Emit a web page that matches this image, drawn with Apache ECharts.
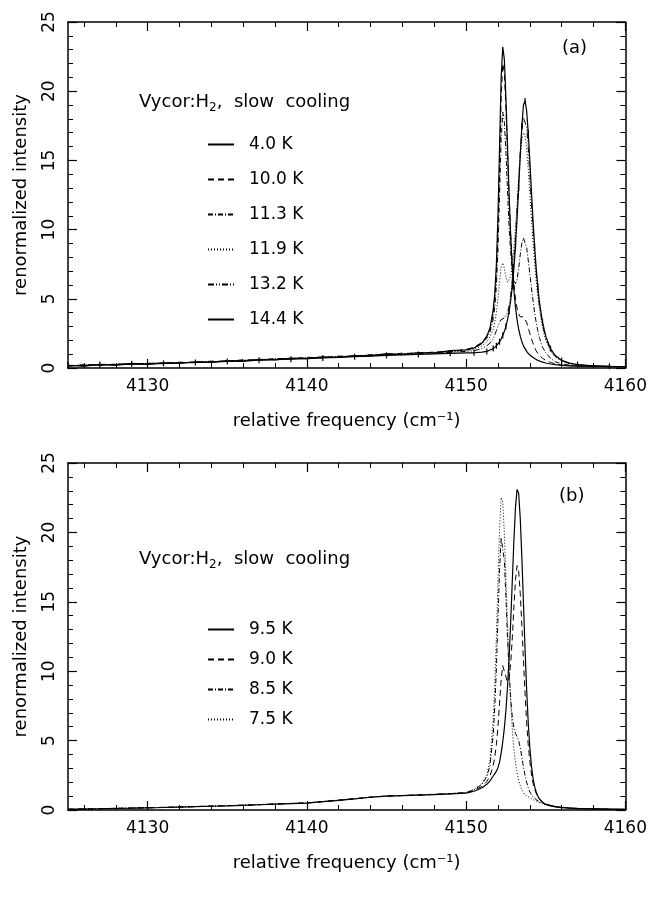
<!DOCTYPE html>
<html>
<head>
<meta charset="utf-8">
<script src="https://cdn.jsdelivr.net/npm/echarts@6/dist/echarts.min.js"></script>
<style>
html,body{margin:0;padding:0;background:#fff;}
#chart{width:650px;height:902px;}
</style>
</head>
<body>
<div id="chart"></div>
<script>
// ---- data ----
const freq = [4125,4126,4127,4128,4129,4130,4131,4132,4133,4134,4135,4136,4137,4138,4139,4140,4141,4142,4143,4144,4145,4146,4147,4148,4149,4150,
  4150.5,4151,4151.3,4151.5,4151.7,4151.8,4151.9,4152.0,4152.1,4152.2,4152.3,4152.4,4152.5,4152.6,4152.7,4152.8,4152.9,4153.0,4153.1,4153.2,
  4153.3,4153.4,4153.5,4153.6,4153.7,4153.8,4153.9,4154.0,4154.1,4154.2,4154.3,4154.4,4154.5,4154.6,4154.8,4155.0,4155.3,4155.6,4156,4156.5,4157,4158,4159,4160];

const xTickValues = [4130,4140,4150,4160];
const xMinorValues = [4126,4128,4132,4134,4136,4138,4142,4144,4146,4148,4152,4154,4156,4158];

// panel (a)
const namesA = ['4.0 K','10.0 K','11.3 K','11.9 K','13.2 K','14.4 K'];
const a_4_0 = [0.18,0.14,0.27,0.22,0.33,0.26,0.38,0.33,0.45,0.40,0.53,0.50,0.62,0.58,0.72,0.68,0.80,0.76,0.90,0.88,1.04,0.97,1.12,1.07,1.25,1.32,
  1.45,1.8,2.3,2.9,4.2,5.4,7.5,11.0,16.0,21.0,23.2,22.3,19.5,16.0,12.5,9.5,7.2,5.6,4.4,3.5,2.8,2.3,1.9,1.6,1.4,1.2,1.05,0.95,0.85,0.75,0.68,0.6,0.55,0.5,0.42,0.36,0.29,0.24,0.19,0.16,0.14,0.12,0.1,0.1];
const a_10_0 = [0.12,0.24,0.19,0.29,0.26,0.35,0.31,0.42,0.38,0.5,0.46,0.6,0.55,0.69,0.66,0.77,0.74,0.86,0.84,0.96,0.95,1.07,1.04,1.16,1.16,1.34,
  1.5,1.85,2.3,2.8,3.9,5.0,6.8,9.8,14.5,19.5,22.0,21.3,18.8,15.5,12.3,9.6,7.6,6.1,5.0,4.3,3.9,3.7,3.7,3.7,3.6,3.3,2.9,2.5,2.1,1.8,1.5,1.25,1.05,0.9,0.7,0.55,0.4,0.3,0.22,0.17,0.14,0.12,0.1,0.1];
const a_11_3 = [0.16,0.2,0.24,0.24,0.31,0.32,0.36,0.37,0.43,0.44,0.51,0.53,0.61,0.63,0.69,0.73,0.79,0.8,0.87,0.93,0.99,1.03,1.09,1.11,1.21,1.3,
  1.45,1.75,2.15,2.6,3.5,4.4,5.9,8.5,12.5,16.5,18.5,17.8,15.6,12.8,10.2,8.3,7.0,6.3,6.1,6.4,7.2,8.2,9.0,9.4,9.3,8.7,7.8,6.8,5.8,4.9,4.0,3.3,2.7,2.2,1.5,1.1,0.7,0.45,0.3,0.2,0.16,0.13,0.11,0.1];
const a_11_9 = [0.14,0.22,0.2,0.27,0.28,0.31,0.34,0.4,0.4,0.47,0.48,0.57,0.58,0.67,0.68,0.74,0.77,0.84,0.86,0.94,0.97,1.04,1.06,1.14,1.17,1.25,
  1.35,1.6,1.9,2.25,2.8,3.3,4.0,5.0,6.2,7.3,7.6,7.2,6.6,6.2,6.2,6.6,7.4,8.6,10.1,11.8,13.6,15.3,16.5,17.0,16.8,15.9,14.4,12.6,10.8,9.1,7.6,6.3,5.2,4.3,2.9,2.0,1.2,0.8,0.5,0.3,0.22,0.15,0.12,0.1];
const a_13_2 = [0.17,0.19,0.23,0.26,0.29,0.33,0.35,0.39,0.41,0.46,0.49,0.54,0.57,0.64,0.67,0.71,0.75,0.8,0.85,0.9,0.95,0.99,1.03,1.08,1.12,1.2,
  1.25,1.4,1.6,1.8,2.1,2.4,2.7,3.0,3.3,3.5,3.6,3.6,3.7,4.0,4.5,5.3,6.4,7.8,9.5,11.5,13.6,15.6,17.2,18.1,18.2,17.4,15.9,14.0,12.0,10.1,8.4,6.9,5.6,4.6,3.1,2.2,1.3,0.85,0.52,0.32,0.23,0.15,0.12,0.1];
const a_14_4 = [0.2,0.16,0.25,0.21,0.3,0.28,0.33,0.36,0.4,0.43,0.47,0.5,0.56,0.6,0.64,0.68,0.73,0.77,0.82,0.86,0.91,0.94,0.98,1.02,1.06,1.1,
  1.1,1.15,1.2,1.3,1.4,1.5,1.6,1.75,1.9,2.1,2.35,2.65,3.0,3.5,4.1,4.9,5.9,7.2,8.8,10.8,13.0,15.4,17.5,19.0,19.3,18.6,17.0,15.0,12.8,10.7,8.8,7.2,5.9,4.8,3.3,2.3,1.4,0.9,0.55,0.35,0.25,0.15,0.12,0.1];

// panel (b)
const namesB = ['9.5 K','9.0 K','8.5 K','7.5 K'];
const b_9_5 = [0.05,0.07,0.09,0.11,0.13,0.16,0.18,0.21,0.24,0.27,0.3,0.34,0.38,0.42,0.46,0.5,0.6,0.7,0.8,0.92,1.0,1.03,1.07,1.11,1.16,1.22,
  1.35,1.6,1.85,2.1,2.45,2.6,2.8,3.05,3.45,4.1,4.9,5.9,7.2,8.9,11.0,13.6,16.5,19.4,21.8,23.1,22.8,21.0,18.2,14.9,11.6,8.7,6.3,4.5,3.2,2.3,1.7,1.3,1.0,0.8,0.55,0.4,0.3,0.22,0.17,0.13,0.1,0.08,0.06,0.05];
const b_9_0 = [0.05,0.07,0.09,0.11,0.14,0.16,0.19,0.21,0.24,0.28,0.31,0.34,0.38,0.43,0.47,0.51,0.6,0.7,0.81,0.92,1.0,1.04,1.08,1.12,1.17,1.24,
  1.4,1.7,2.05,2.45,3.2,3.8,4.7,6.0,7.7,9.4,10.4,10.3,9.6,9.2,9.5,10.6,12.4,14.6,16.6,17.6,17.2,15.6,13.3,10.8,8.4,6.3,4.7,3.5,2.6,1.95,1.5,1.2,0.95,0.8,0.58,0.45,0.33,0.25,0.19,0.14,0.11,0.08,0.06,0.05];
const b_8_5 = [0.06,0.07,0.1,0.11,0.14,0.16,0.19,0.22,0.25,0.28,0.31,0.35,0.39,0.43,0.47,0.51,0.61,0.71,0.81,0.93,1.01,1.04,1.08,1.13,1.18,1.25,
  1.45,1.85,2.4,3.2,5.4,7.4,10.2,13.8,17.3,19.6,19.7,18.0,15.3,12.4,9.9,8.0,6.7,5.9,5.5,5.3,5.0,4.5,3.8,3.1,2.5,2.0,1.6,1.3,1.1,0.95,0.85,0.75,0.67,0.6,0.5,0.42,0.33,0.26,0.2,0.15,0.12,0.09,0.07,0.05];
const b_7_5 = [0.06,0.08,0.1,0.12,0.14,0.17,0.19,0.22,0.25,0.28,0.32,0.35,0.39,0.43,0.48,0.52,0.61,0.71,0.82,0.93,1.01,1.05,1.09,1.13,1.19,1.27,
  1.5,1.9,2.5,3.6,6.5,9.0,12.5,16.5,20.2,22.5,22.2,20.0,16.8,13.3,10.2,7.7,5.8,4.4,3.4,2.7,2.15,1.75,1.45,1.25,1.1,1.0,0.95,0.9,0.82,0.75,0.7,0.65,0.6,0.55,0.45,0.38,0.3,0.24,0.18,0.14,0.11,0.08,0.06,0.05];

// ---- styling ----
const FONT = 'DejaVu Sans';
const dashStyles = {
  solid: 'solid',
  dashed: [6,4],
  dashdot: [5,2,1,2],
  dotted: [1,2],
  dashdotdot: [6,2,1,2,1,2]
};
const pairs = arr => freq.map((f,i)=>[f, arr[i]]);

function lineSeries(name, arr, grid, dash, extra) {
  return Object.assign({
    name: name, type: 'line', data: pairs(arr),
    xAxisIndex: grid*4, yAxisIndex: grid*2,
    symbol: 'none', smooth: false, animation: false,
    lineStyle: {color: '#000', width: 1, type: dash},
    itemStyle: {color: '#000'}
  }, extra || {});
}

function xAxesFor(gridIndex) {
  const base = {
    type: 'value', gridIndex: gridIndex, min: 4125, max: 4160,
    splitLine: {show: false}
  };
  return [
    Object.assign({}, base, {
      position: 'bottom',
      axisLine: {show: true, onZero: false, lineStyle: {color: '#000', width: 1.5}},
      axisTick: {show: true, inside: true, length: 9, customValues: xTickValues, lineStyle: {color: '#000', width: 1.2}},
      axisLabel: {show: true, customValues: xTickValues, formatter: v => String(v), color: '#000', fontSize: 17, fontFamily: FONT, margin: 10},
      name: 'relative frequency (cm\u207B\u00B9)', nameLocation: 'middle', nameGap: 44,
      nameTextStyle: {color: '#000', fontSize: 18, fontFamily: FONT}
    }),
    Object.assign({}, base, {
      position: 'bottom',
      axisLine: {show: false, onZero: false},
      axisTick: {show: true, inside: true, length: 5, customValues: xMinorValues, lineStyle: {color: '#000', width: 1}},
      axisLabel: {show: false}
    }),
    Object.assign({}, base, {
      position: 'top',
      axisLine: {show: true, onZero: false, lineStyle: {color: '#000', width: 1.5}},
      axisTick: {show: true, inside: true, length: 9, customValues: xTickValues, lineStyle: {color: '#000', width: 1.2}},
      axisLabel: {show: false}
    }),
    Object.assign({}, base, {
      position: 'top',
      axisLine: {show: false, onZero: false},
      axisTick: {show: true, inside: true, length: 5, customValues: xMinorValues, lineStyle: {color: '#000', width: 1}},
      axisLabel: {show: false}
    })
  ];
}

function yAxesFor(gridIndex) {
  const base = {
    type: 'value', gridIndex: gridIndex, min: 0, max: 25, interval: 5,
    splitLine: {show: false},
    axisLine: {show: true, onZero: false, lineStyle: {color: '#000', width: 1.5}},
    axisTick: {show: true, inside: true, length: 9, lineStyle: {color: '#000', width: 1.2}},
    minorTick: {show: true, splitNumber: 5, length: 5, lineStyle: {color: '#000', width: 1}}
  };
  return [
    Object.assign({}, base, {
      position: 'left',
      axisLabel: {show: true, rotate: 90, color: '#000', fontSize: 17, fontFamily: FONT, margin: 10},
      name: 'renormalized intensity', nameLocation: 'middle', nameGap: 38,
      nameTextStyle: {color: '#000', fontSize: 18, fontFamily: FONT}
    }),
    Object.assign({}, base, {position: 'right', axisLabel: {show: false}})
  ];
}

const plusSize = function (val, params) { return (params && params.dataIndex % 2 === 0) ? [1.2, 6] : 0; };

const series = [
  lineSeries(namesA[0], a_4_0, 0, dashStyles.solid, {lineStyle: {color: '#000', width: 1.2, type: 'solid'}}),
  lineSeries(namesA[1], a_10_0, 0, dashStyles.dashed),
  lineSeries(namesA[2], a_11_3, 0, dashStyles.dashdot),
  lineSeries(namesA[3], a_11_9, 0, dashStyles.dotted),
  lineSeries(namesA[4], a_13_2, 0, dashStyles.dashdotdot),
  lineSeries(namesA[5], a_14_4, 0, dashStyles.solid, {
    lineStyle: {color: '#000', width: 1.2, type: 'solid'},
    symbol: 'rect', symbolSize: plusSize, showSymbol: true, showAllSymbol: true
  }),
  lineSeries(namesB[0], b_9_5, 1, dashStyles.solid, {lineStyle: {color: '#000', width: 1.2, type: 'solid'}}),
  lineSeries(namesB[1], b_9_0, 1, dashStyles.dashed),
  lineSeries(namesB[2], b_8_5, 1, dashStyles.dashdot),
  lineSeries(namesB[3], b_7_5, 1, dashStyles.dotted)
];

const legendCommon = {
  orient: 'vertical', left: 202, itemWidth: 26, itemHeight: 12,
  itemStyle: {opacity: 0},
  textStyle: {color: '#000', fontSize: 17, fontFamily: FONT, lineHeight: 14, padding: [0,0,0,10]},
  selectedMode: false
};

const titleRich = {
  a: {fontSize: 18, fontFamily: FONT, color: '#000', fontWeight: 'normal'},
  s: {fontSize: 12, fontFamily: FONT, color: '#000', fontWeight: 'normal', padding: [11,0,0,0]}
};

const option = {
  animation: false,
  backgroundColor: '#fff',
  grid: [
    {left: 68, right: 22, top: 22, height: 346},
    {left: 68, right: 22, top: 463, height: 347}
  ],
  xAxis: xAxesFor(0).concat(xAxesFor(1)),
  yAxis: yAxesFor(0).concat(yAxesFor(1)),
  title: [
    {text: '{a|Vycor:H}{s|2}{a|,  slow  cooling}', left: 134, top: 86, textStyle: {rich: titleRich}},
    {text: '{a|Vycor:H}{s|2}{a|,  slow  cooling}', left: 134, top: 543, textStyle: {rich: titleRich}},
    {text: '(a)', left: 557, top: 34, textStyle: {fontSize: 18, fontWeight: 'normal', fontFamily: FONT, color: '#000'}},
    {text: '(b)', left: 554, top: 482, textStyle: {fontSize: 18, fontWeight: 'normal', fontFamily: FONT, color: '#000'}}
  ],
  legend: [
    Object.assign({}, legendCommon, {data: namesA, top: 131, itemGap: 18}),
    Object.assign({}, legendCommon, {data: namesB, top: 616, itemGap: 13})
  ],
  series: series
};

const chart = echarts.init(document.getElementById('chart'), null, {renderer: 'canvas'});
chart.setOption(option);
</script>
</body>
</html>
